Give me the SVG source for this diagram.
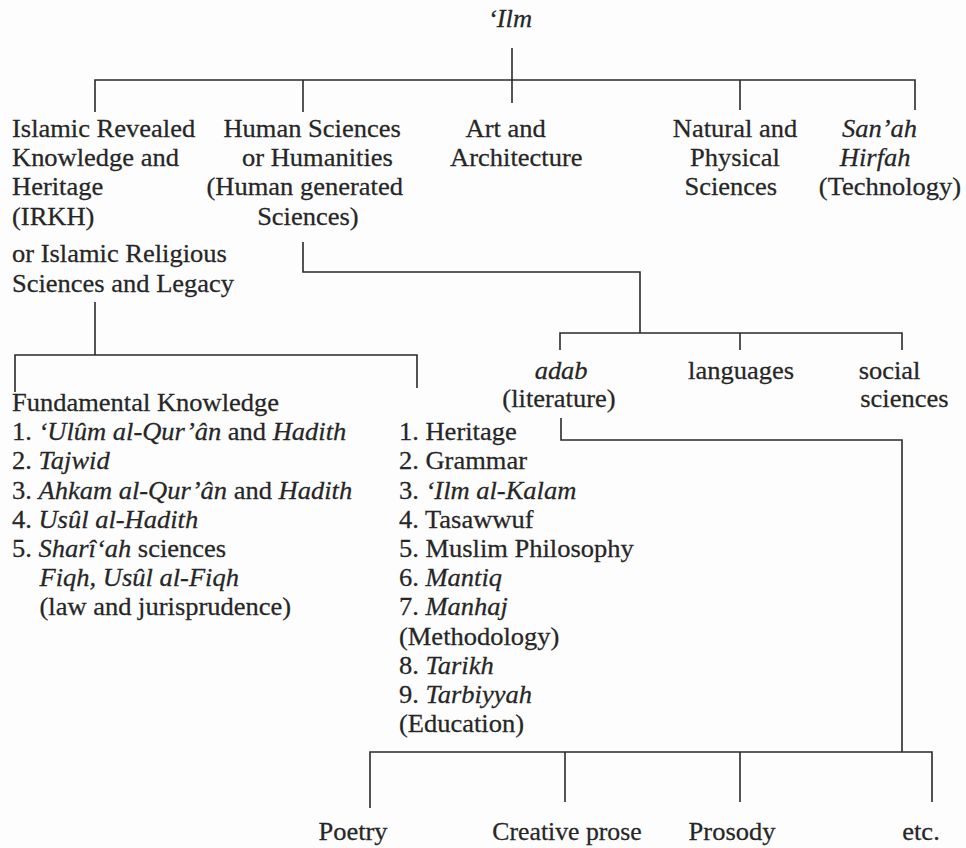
<svg xmlns="http://www.w3.org/2000/svg" width="966" height="848" viewBox="0 0 966 848">
<style>
text{font-family:"Liberation Serif","Times New Roman",serif;font-size:25px;fill:#262626;stroke:#262626;stroke-width:0.25}
.i{font-style:italic}
.m{text-anchor:middle}
.c{fill:none;stroke:#2a2a2a;stroke-width:1.6}
</style>
<rect width="966" height="848" fill="#fdfdfd"/>
<g id="connectors" class="c">
 <path d="M512 48V103"/>
 <path d="M95 112V80H915V110"/>
 <path d="M303 80V112"/>
 <path d="M740 80V110"/>
 <path d="M303 242V272H640V333"/>
 <path d="M560 350V333H902V350"/>
 <path d="M740 333V350"/>
 <path d="M95 302V355"/>
 <path d="M15 392V355H417V388"/>
 <path d="M561 418V440H902V752"/>
 <path d="M370 808V752H932V802"/>
 <path d="M565 752V802"/>
 <path d="M740 752V802"/>
</g>
<g id="ilm" transform="translate(510,0) scale(1.06,1)"><text class="m i" x="0" y="27">‘Ilm</text></g>
<g id="irkh" transform="translate(12,0) scale(1.06,1)">
 <text x="0" y="137">Islamic Revealed</text>
 <text x="0" y="166">Knowledge and</text>
 <text x="0" y="195">Heritage</text>
 <text x="0" y="225">(IRKH)</text>
 <text x="0" y="262">or Islamic Religious</text>
 <text x="0" y="292">Sciences and Legacy</text>
</g>
<g id="human" transform="translate(310,0) scale(1.06,1)">
 <text class="m" x="2" y="137">Human Sciences</text>
 <text class="m" x="7" y="166">or Humanities</text>
 <text class="m" x="-5" y="195">(Human generated</text>
 <text class="m" x="-2" y="225">Sciences)</text>
</g>
<g id="art" transform="translate(511,0) scale(1.06,1)">
 <text class="m" x="-5" y="137">Art and</text>
 <text class="m" x="5" y="166">Architecture</text>
</g>
<g id="natural" transform="translate(735,0) scale(1.06,1)">
 <text class="m" x="0" y="137">Natural and</text>
 <text class="m" x="0" y="166">Physical</text>
 <text class="m" x="-4" y="195">Sciences</text>
</g>
<g id="sanah" transform="translate(890,0) scale(1.06,1)">
 <text class="m i" x="-10" y="137">San’ah</text>
 <text class="m i" x="-14" y="166">Hirfah</text>
 <text class="m" x="0" y="195">(Technology)</text>
</g>
<g id="adab" transform="translate(559,0) scale(1.06,1)">
 <text class="m i" x="2" y="379">adab</text>
 <text class="m" x="0" y="407">(literature)</text>
</g>
<g id="languages" transform="translate(741,0) scale(1.06,1)">
 <text class="m" x="0" y="379">languages</text>
</g>
<g id="social" transform="translate(898,0) scale(1.06,1)">
 <text class="m" x="-8" y="379">social</text>
 <text class="m" x="6" y="407">sciences</text>
</g>
<g id="fundamental" transform="translate(12,0) scale(1.06,1)">
 <text x="0" y="411">Fundamental Knowledge</text>
 <text x="0" y="440.2">1. <tspan class="i">‘Ulûm al-Qur’ân</tspan> and <tspan class="i">Hadith</tspan></text>
 <text x="0" y="469.4">2. <tspan class="i">Tajwid</tspan></text>
 <text x="0" y="498.6">3. <tspan class="i">Ahkam al-Qur’ân</tspan> and <tspan class="i">Hadith</tspan></text>
 <text x="0" y="527.8">4. <tspan class="i">Usûl al-Hadith</tspan></text>
 <text x="0" y="557">5. <tspan class="i">Sharî‘ah</tspan> sciences</text>
 <text class="i" x="26" y="586.2">Fiqh, Usûl al-Fiqh</text>
 <text x="26" y="615.4">(law and jurisprudence)</text>
</g>
<g id="ihs-list" transform="translate(399,0) scale(1.06,1)">
 <text x="0" y="440.2">1. Heritage</text>
 <text x="0" y="469.4">2. Grammar</text>
 <text x="0" y="498.6">3. <tspan class="i">‘Ilm al-Kalam</tspan></text>
 <text x="0" y="527.8">4. Tasawwuf</text>
 <text x="0" y="557">5. Muslim Philosophy</text>
 <text x="0" y="586.2">6. <tspan class="i">Mantiq</tspan></text>
 <text x="0" y="615.4">7. <tspan class="i">Manhaj</tspan></text>
 <text x="0" y="644.6">(Methodology)</text>
 <text x="0" y="673.8">8. <tspan class="i">Tarikh</tspan></text>
 <text x="0" y="703">9. <tspan class="i">Tarbiyyah</tspan></text>
 <text x="0" y="732.2">(Education)</text>
</g>
<g id="poetry" transform="translate(353,0) scale(1.06,1)"><text class="m" x="0" y="840">Poetry</text></g>
<g id="prose" transform="translate(567,0) scale(1.03,1)"><text class="m" x="0" y="840">Creative prose</text></g>
<g id="prosody" transform="translate(732,0) scale(1.06,1)"><text class="m" x="0" y="840">Prosody</text></g>
<g id="etc" transform="translate(921,0) scale(1.06,1)"><text class="m" x="0" y="840">etc.</text></g>
</svg>
